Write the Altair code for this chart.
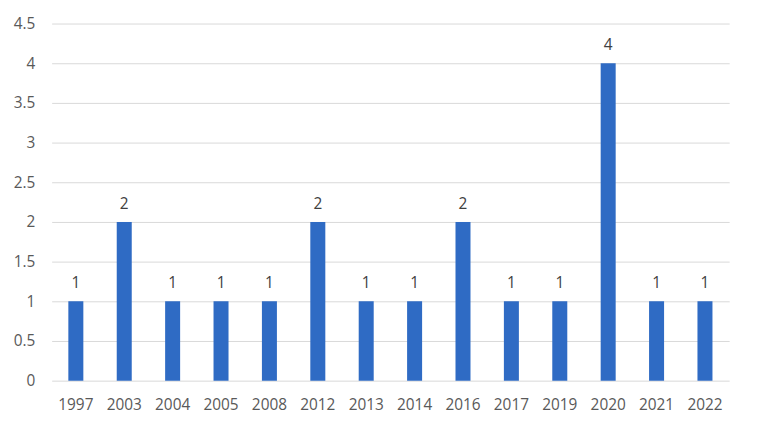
import altair as alt
import pandas as pd

years = ["1997", "2003", "2004", "2005", "2008", "2012", "2013", "2014", "2016", "2017", "2019", "2020", "2021", "2022"]
counts = [1, 2, 1, 1, 1, 2, 1, 1, 2, 1, 1, 4, 1, 1]
y_ticks = [0, 0.5, 1, 1.5, 2, 2.5, 3, 3.5, 4, 4.5]

df = pd.DataFrame({"year": years, "count": counts})

FONT = "Open Sans"
GREY = "#595959"
FS = 15.5

base = alt.Chart(df).encode(
    x=alt.X("year:N", sort=years, title=None,
            scale=alt.Scale(paddingInner=0.69, paddingOuter=0.345),
            axis=alt.Axis(labelAngle=0, domain=False, ticks=False, labelPadding=29,
                          labelBaseline="alphabetic",
                          labelFont=FONT, labelFontSize=FS, labelColor=GREY, grid=False)),
    y=alt.Y("count:Q", title=None,
            scale=alt.Scale(domain=[0, 4.5], nice=False),
            axis=alt.Axis(values=y_ticks, format="~g", domain=False, ticks=False, labelPadding=17,
                          labelFont=FONT, labelFontSize=FS, labelColor=GREY,
                          gridColor="#D9D9D9", gridWidth=1)),
)

bars = base.mark_bar(color="#2F6BC4")
labels = base.mark_text(baseline="alphabetic", dy=-13, font=FONT, fontSize=FS, color="#404040").encode(
    text="count:Q")

chart = (bars + labels).properties(
    width=683, height=360,
    background="white",
    autosize=alt.AutoSizeParams(type="none"),
    padding={"left": 44, "top": 14, "right": 20, "bottom": 40},
).configure_view(stroke="transparent", strokeWidth=0)

chart.save("out.html", embed_options={"renderer": "svg", "actions": False})
